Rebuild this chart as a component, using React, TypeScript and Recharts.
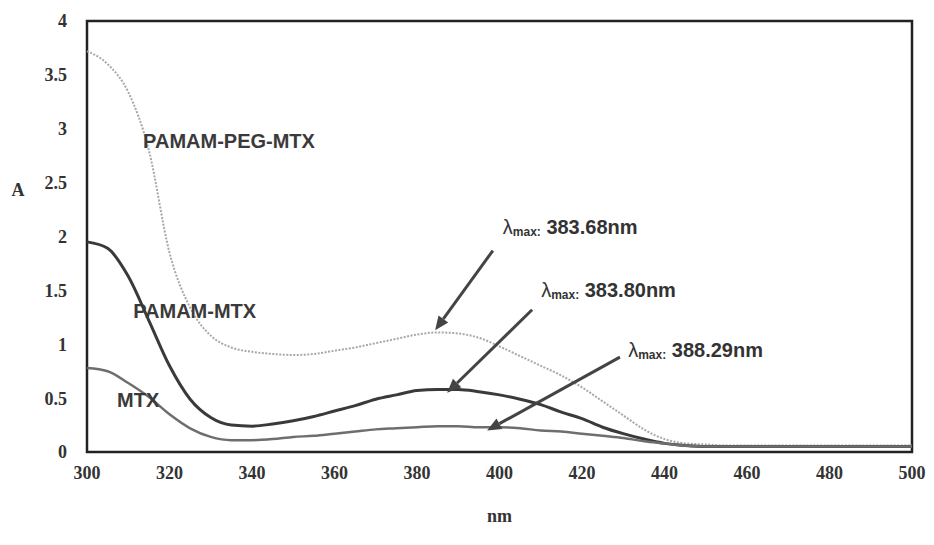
import React from 'react';
import { LineChart, Line, XAxis, YAxis, ReferenceArea, ReferenceLine, ReferenceDot } from 'recharts';

const wavelengths = [300, 305, 310, 315, 320, 325, 330, 335, 340, 345, 350, 355, 360, 365, 370, 375, 380, 385, 390, 395, 400, 405, 410, 415, 420, 425, 430, 435, 440, 445, 450, 455, 460, 465, 470, 475, 480, 485, 490, 495, 500];
const pegMtx = [3.72, 3.6, 3.34, 2.8, 1.85, 1.34, 1.08, 0.97, 0.93, 0.91, 0.9, 0.91, 0.94, 0.97, 1.01, 1.05, 1.09, 1.11, 1.1, 1.06, 0.98, 0.89, 0.8, 0.71, 0.6, 0.47, 0.34, 0.21, 0.12, 0.08, 0.07, 0.06, 0.06, 0.06, 0.06, 0.06, 0.06, 0.06, 0.06, 0.06, 0.06];
const pamamMtx = [1.95, 1.89, 1.63, 1.22, 0.8, 0.49, 0.32, 0.25, 0.24, 0.26, 0.29, 0.33, 0.38, 0.43, 0.49, 0.53, 0.57, 0.58, 0.58, 0.56, 0.53, 0.49, 0.44, 0.37, 0.31, 0.23, 0.17, 0.12, 0.08, 0.06, 0.05, 0.05, 0.05, 0.05, 0.05, 0.05, 0.05, 0.05, 0.05, 0.05, 0.05];
const mtx = [0.78, 0.75, 0.64, 0.51, 0.35, 0.22, 0.14, 0.11, 0.11, 0.12, 0.14, 0.15, 0.17, 0.19, 0.21, 0.22, 0.23, 0.24, 0.24, 0.23, 0.23, 0.22, 0.2, 0.19, 0.17, 0.15, 0.13, 0.1, 0.08, 0.06, 0.05, 0.05, 0.05, 0.05, 0.05, 0.05, 0.05, 0.05, 0.05, 0.05, 0.05];
const xTicks = [300, 320, 340, 360, 380, 400, 420, 440, 460, 480, 500];
const yTicks = [0, 0.5, 1, 1.5, 2, 2.5, 3, 3.5, 4];

const seriesNames = ['PAMAM-PEG-MTX', 'PAMAM-MTX', 'MTX'];
const seriesLabelX = [313.6, 311.2, 307.3];
const seriesLabelY = [2.89, 1.31, 0.48];

const peakTexts = ['383.68nm', '383.80nm', '388.29nm'];
const peakLabelX = [400.8, 410.1, 431.2];
const peakLabelY = [2.09, 1.5, 0.95];
const arrowFromX = [398.4, 407.9, 429.2];
const arrowFromY = [1.87, 1.32, 0.88];
const arrowToX = [384.4, 387.3, 397.0];
const arrowToY = [1.13, 0.55, 0.2];

const data = wavelengths.map((w, i) => ({ nm: w, peg: pegMtx[i], pamam: pamamMtx[i], mtx: mtx[i] }));

const tickStyle = { fontFamily: '"Liberation Serif", serif', fontSize: 18, fontWeight: 700, fill: '#333' };

const ArrowShape = (props: any) => {
  const { x1, y1, x2, y2 } = props;
  if ([x1, y1, x2, y2].some((v) => typeof v !== 'number' || isNaN(v))) return null;
  const dx = x2 - x1;
  const dy = y2 - y1;
  const len = Math.sqrt(dx * dx + dy * dy);
  const ux = dx / len;
  const uy = dy / len;
  const headLen = 14;
  const headW = 6;
  const bx = x2 - ux * headLen;
  const by = y2 - uy * headLen;
  const px = -uy;
  const py = ux;
  return (
    <g>
      <line x1={x1} y1={y1} x2={bx} y2={by} stroke="#444" strokeWidth={3} />
      <polygon
        points={`${x2},${y2} ${bx + px * headW},${by + py * headW} ${bx - px * headW},${by - py * headW}`}
        fill="#444"
      />
    </g>
  );
};

export default function App() {
  return (
    <div style={{ position: 'absolute', left: 0, top: 0, background: '#fff' }}>
      <LineChart width={934} height={545} data={data} margin={{ top: 21, right: 22, bottom: 0, left: 0 }}>
        <XAxis
          dataKey="nm"
          type="number"
          domain={[300, 500]}
          ticks={xTicks}
          tickSize={0}
          tickMargin={14}
          axisLine={false}
          tickLine={false}
          height={93}
          tick={tickStyle}
          label={(p: any) => {
            const vb = p.viewBox || {};
            return (
              <text x={vb.x + vb.width / 2} y={516} textAnchor="middle" dominantBaseline="central" style={tickStyle as any}>
                nm
              </text>
            );
          }}
        />
        <YAxis
          type="number"
          domain={[0, 4]}
          ticks={yTicks}
          tickSize={0}
          tickMargin={20}
          axisLine={false}
          tickLine={false}
          width={87}
          tick={tickStyle}
          label={(p: any) => (
            <text x={18} y={190} textAnchor="middle" dominantBaseline="central" style={tickStyle as any}>
              A
            </text>
          )}
        />
        <ReferenceArea x1={300} x2={500} y1={0} y2={4} fill="none" stroke="#222" strokeWidth={2.5} />
        <Line type="monotone" dataKey="peg" stroke="#a8a8a8" strokeWidth={2} strokeDasharray="2 1.5" dot={false} isAnimationActive={false} />
        <Line type="monotone" dataKey="pamam" stroke="#3a3a3a" strokeWidth={3} dot={false} isAnimationActive={false} />
        <Line type="monotone" dataKey="mtx" stroke="#6e6e6e" strokeWidth={2.5} dot={false} isAnimationActive={false} />
        {seriesNames.map((name, i) => (
          <ReferenceDot
            key={name}
            x={seriesLabelX[i]}
            y={seriesLabelY[i]}
            r={0}
            isFront
            shape={(p: any) => (
              <text
                x={p.cx}
                y={p.cy}
                dominantBaseline="central"
                style={{ fontFamily: '"Liberation Sans", Arial, sans-serif', fontSize: 20, fontWeight: 700, fill: '#3a3a3a' }}
              >
                {name}
              </text>
            )}
          />
        ))}
        {peakTexts.map((t, i) => (
          <ReferenceLine
            key={'arrow' + t}
            segment={[
              { x: arrowFromX[i], y: arrowFromY[i] },
              { x: arrowToX[i], y: arrowToY[i] },
            ]}
            shape={ArrowShape}
            isFront
          />
        ))}
        {peakTexts.map((t, i) => (
          <ReferenceDot
            key={'lbl' + t}
            x={peakLabelX[i]}
            y={peakLabelY[i]}
            r={0}
            isFront
            shape={(p: any) => (
              <text
                x={p.cx}
                y={p.cy}
                dominantBaseline="central"
                style={{ fontFamily: '"Liberation Sans", Arial, sans-serif', fill: '#333', fontWeight: 700 }}
              >
                <tspan fontSize={20} fontWeight={400}>λ</tspan>
                <tspan fontSize={12} dy={5}>max:</tspan>
                <tspan fontSize={20} dy={-5}> {t}</tspan>
              </text>
            )}
          />
        ))}
      </LineChart>
    </div>
  );
}
